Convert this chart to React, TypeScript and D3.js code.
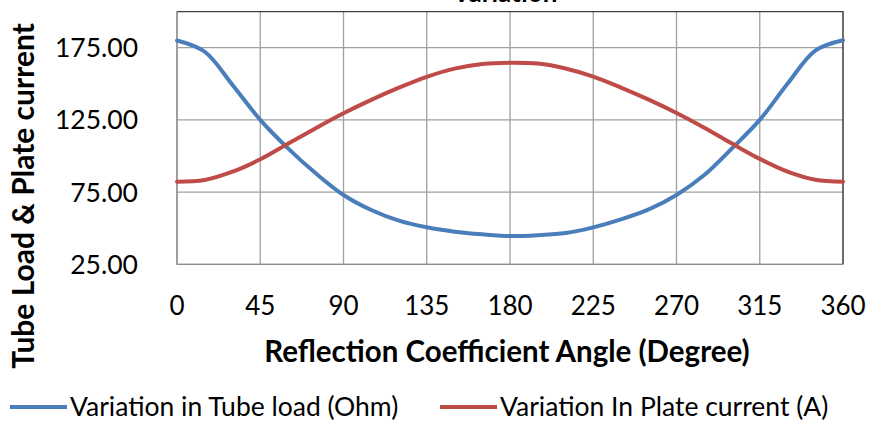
import React, { Component } from 'react'
import { select, scaleLinear, line, curveCatmullRom } from 'd3'

// reflection coefficient angle, degrees
const angles = [0, 15, 30, 45, 60, 75, 90, 105, 120, 135, 150, 165, 180,
  195, 210, 225, 240, 255, 270, 285, 300, 315, 330, 345, 360]
// Variation in Tube load (Ohm)
const tubeLoad = [180, 172.2, 149.2, 125, 105.3, 88, 73, 62.6, 55.2, 50.6, 47.6, 45.8, 44.6,
  45.2, 46.7, 50.6, 56.1, 63, 73, 86.8, 105.3, 125, 150, 173, 180.2]
// Variation In Plate current (A)
const plateCurrent = [82.2, 83.4, 89.1, 97.7, 108.5, 119.3, 129.6, 138.9, 147.3, 154.8, 160.5, 163.7, 164.6,
  164, 160.6, 155, 147.4, 139, 129.8, 119.6, 108.6, 98, 89.2, 83.6, 82.2]

const xTicks = [0, 45, 90, 135, 180, 225, 270, 315, 360]
const yTicks = [25, 75, 125, 175]

const seriesNames = ['Variation in Tube load (Ohm)', 'Variation In Plate current (A)']
const seriesColors = ['#4A7EBB', '#BE4B48']

const FONT = 'Lato, "Open Sans", sans-serif'

class App extends Component {
  node: SVGSVGElement | null = null

  componentDidMount() {
    this.buildChart()
  }

  buildChart() {
    const svg = select(this.node)
    svg.selectAll('*').remove()

    const x = scaleLinear().domain([0, 360]).range([177, 843])
    const y = scaleLinear().domain([25, 200]).range([264.3, 11.6])

    // chart title, cut off by the top edge as in the source image
    svg.append('text')
      .attr('x', 505).attr('y', 2)
      .attr('text-anchor', 'middle')
      .style('font-family', FONT).style('font-weight', 'bold').style('font-size', '26px')
      .text('Variation')

    const g = svg.append('g')

    g.selectAll('.vgrid')
      .data(xTicks)
      .enter().append('line')
      .attr('x1', d => x(d)).attr('x2', d => x(d))
      .attr('y1', y(200)).attr('y2', y(25))
      .attr('stroke', '#A0A0A0').attr('stroke-width', 1.3)

    g.selectAll('.hgrid')
      .data(yTicks)
      .enter().append('line')
      .attr('x1', x(0)).attr('x2', x(360))
      .attr('y1', d => y(d)).attr('y2', d => y(d))
      .attr('stroke', '#A0A0A0').attr('stroke-width', 1.3)

    // plot frame
    g.append('path')
      .attr('d', `M${x(0)},${y(200)}H${x(360)}V${y(25)}`)
      .attr('fill', 'none').attr('stroke', '#404040').attr('stroke-width', 1.3)
    g.append('path')
      .attr('d', `M${x(0)},${y(200)}V${y(25)}H${x(360)}`)
      .attr('fill', 'none').attr('stroke', '#8C8C8C').attr('stroke-width', 1.3)

    // y tick labels
    g.selectAll('.ylab')
      .data(yTicks)
      .enter().append('text')
      .attr('x', 138).attr('y', d => y(d))
      .attr('dy', '0.36em')
      .attr('text-anchor', 'end')
      .style('font-family', FONT).style('font-size', '26.5px').style('fill', '#000')
      .text(d => d.toFixed(2))

    // x tick labels
    g.selectAll('.xlab')
      .data(xTicks)
      .enter().append('text')
      .attr('x', d => x(d)).attr('y', 315)
      .attr('text-anchor', 'middle')
      .style('font-family', FONT).style('font-size', '26px').style('fill', '#000')
      .text(d => String(d))

    const dataLine = line<number>()
      .x((d, i) => x(angles[i]))
      .y(d => y(d))
      .curve(curveCatmullRom.alpha(0.5))

    ;[tubeLoad, plateCurrent].forEach((series, k) => {
      g.append('path')
        .datum(series)
        .attr('d', dataLine)
        .attr('fill', 'none')
        .attr('stroke', seriesColors[k])
        .attr('stroke-width', 4)
        .attr('stroke-linecap', 'round')
        .attr('stroke-linejoin', 'round')
    })

    // axis titles
    svg.append('text')
      .attr('x', 507).attr('y', 362)
      .attr('text-anchor', 'middle')
      .style('font-family', FONT).style('font-weight', 'bold').style('font-size', '29.5px')
      .text('Reflection Coefficient Angle (Degree)')

    svg.append('text')
      .attr('transform', 'translate(34,196) rotate(-90)')
      .attr('text-anchor', 'middle')
      .style('font-family', FONT).style('font-weight', 'bold').style('font-size', '30px')
      .text('Tube Load & Plate current')

    // legend
    const legendX = [10, 440]
    const legend = svg.selectAll('.legend')
      .data(seriesNames)
      .enter().append('g')
      .attr('transform', (d, i) => `translate(${legendX[i]},407)`)
    legend.append('line')
      .attr('x1', 0).attr('x2', 57)
      .attr('y1', 0).attr('y2', 0)
      .attr('stroke', (d, i) => seriesColors[i])
      .attr('stroke-width', 4)
    legend.append('text')
      .attr('x', 60).attr('y', 0).attr('dy', '0.34em')
      .style('font-family', FONT).style('font-size', '26.5px')
      .text(d => d)
  }

  render() {
    return (
      <svg
        width={870}
        height={421}
        ref={node => { this.node = node }}
        style={{ position: 'absolute', left: 0, top: 0, background: '#fff' }}></svg>
    )
  }
}

export default App
